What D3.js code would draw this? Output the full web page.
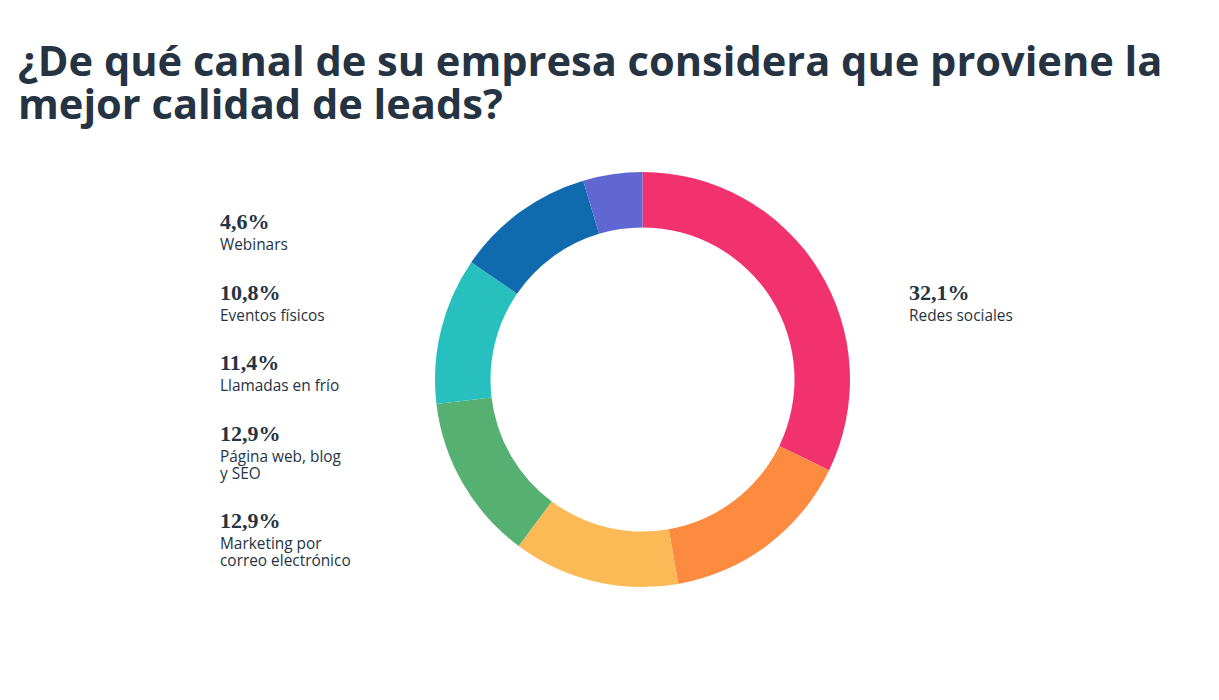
<!DOCTYPE html>
<html>
<head>
<meta charset="utf-8">
<script src="https://cdn.jsdelivr.net/npm/d3@7"></script>
<style>
  html, body { margin: 0; padding: 0; background: #ffffff; }
  svg { display: block; }
</style>
</head>
<body>
<svg id="chart" width="1219" height="700" viewBox="0 0 1219 700"></svg>
<script>
// ---- Data ----
const categories = [
  "Redes sociales",
  "Referidos de otros clientes",
  "Marketing por correo electrónico",
  "Página web, blog y SEO",
  "Llamadas en frío",
  "Eventos físicos",
  "Webinars"
];
const values = [32.1, 15, 12.9, 12.9, 11.4, 10.8, 4.6];
const valueLabels = ["32,1%", "15%", "12,9%", "12,9%", "11,4%", "10,8%", "4,6%"];
const labelLines = [
  ["Redes sociales"],
  ["Referidos de otros", "clientes"],
  ["Marketing por", "correo electrónico"],
  ["Página web, blog", "y SEO"],
  ["Llamadas en frío"],
  ["Eventos físicos"],
  ["Webinars"]
];
const colors = ["#F2316F", "#FC8A3F", "#FCBA57", "#55B071", "#27C0BE", "#0F6BAE", "#6067D3"];
const titleLines = [
  "¿De qué canal de su empresa considera que proviene la",
  "mejor calidad de leads?"
];

// ---- Layout ----
const svg = d3.select("#chart");
const textColor = "#253342";
const cx = 642.5, cy = 379.5, rOuter = 207.5, rInner = 152;

// Title: fit first line to the reference width
const titleWidth = 1145;
const titleEls = titleLines.map((t, i) => svg.append("text")
  .attr("x", 18)
  .attr("y", 76 + i * 43)
  .attr("fill", textColor)
  .attr("font-family", "'Open Sans', sans-serif")
  .attr("font-weight", 700)
  .attr("font-size", 40)
  .text(t));
const w0 = titleEls[0].node().getComputedTextLength();
const fs = Math.min(44, 40 * titleWidth / w0);
titleEls.forEach(el => el.attr("font-size", fs));

// Donut
const pie = d3.pie().sort(null).value(d => d);
const arc = d3.arc().innerRadius(rInner).outerRadius(rOuter);
const arcsData = pie(values);
const g = svg.append("g").attr("transform", `translate(${cx},${cy})`);
g.selectAll("path").data(arcsData).join("path")
  .attr("d", arc)
  .attr("fill", (d, i) => colors[i]);

// Labels: right side for slices whose midpoint is on right, left otherwise
const rightIdx = [], leftIdx = [];
arcsData.forEach((a, i) => {
  const mid = (a.startAngle + a.endAngle) / 2;
  if (mid < Math.PI * 0.75) rightIdx.push(i); else leftIdx.push(i);
});
leftIdx.reverse();

function placeColumn(idxs, x, ys) {
  idxs.forEach((idx, k) => {
    const y = ys[k];
    svg.append("text")
      .attr("x", x).attr("y", y)
      .attr("fill", textColor)
      .attr("font-family", "'Liberation Serif', serif")
      .attr("font-weight", 700)
      .attr("font-size", 22)
      .text(valueLabels[idx]);
    labelLines[idx].forEach((line, j) => {
      svg.append("text")
        .attr("x", x)
        .attr("y", y + 21 + j * 17)
        .attr("fill", textColor)
        .attr("font-family", "'Open Sans', sans-serif")
        .attr("font-weight", 500)
        .attr("font-size", 15.4)
        .text(line);
    });
  });
}
placeColumn(leftIdx, 220, [229, 300, 370, 441, 528]);
placeColumn(rightIdx, 909, [300, 528]);
</script>
</body>
</html>
